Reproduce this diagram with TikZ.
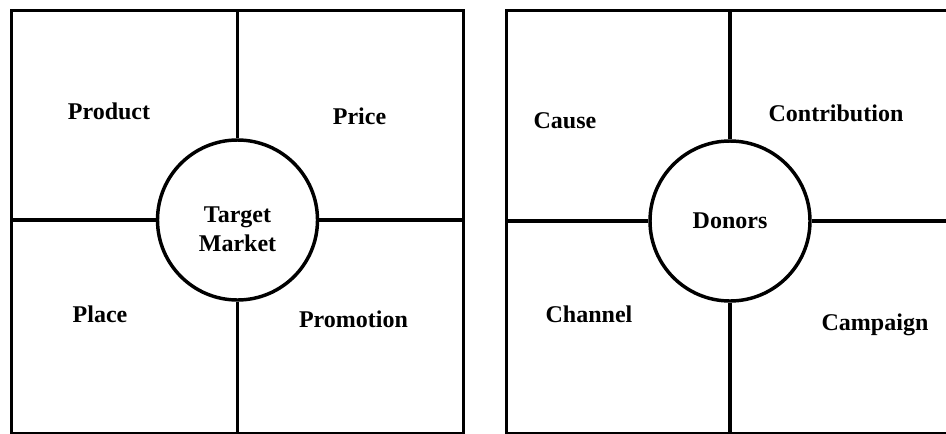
\documentclass[tikz,border=0pt]{standalone}
\usepackage{fontspec}
\setmainfont{Liberation Serif}
\begin{document}
\begin{tikzpicture}[x=0.75pt,y=-0.75pt,line width=2.6pt,
  frame/.style={draw, rectangle, inner sep=0pt, anchor=north west},
  hub/.style={draw, circle, fill=white, inner sep=0pt, minimum size=120pt, font=\fontsize{18}{21.6}\selectfont\bfseries},
  lbl/.style={font=\fontsize{18}{21.6}\selectfont\bfseries, inner sep=0pt, anchor=base},
  divider/.style={draw, line cap=butt}]
\useasboundingbox (0,0) rectangle (946,433);
% left panel
\node[frame, minimum width=339pt, minimum height=316.9pt] (LF) at (9.5,9) {};
\node[hub] (TM) at (237.5,220) {};
\draw[divider] (TM.north) -- (TM.north |- LF.north);
\draw[divider] (TM.south) -- (TM.south |- LF.south);
\draw[divider] (TM.west) -- (TM.west -| LF.west);
\draw[divider] (TM.east) -- (TM.east -| LF.east);
\node[lbl, anchor=center, align=center] (TMt) at (237.5,229.5) {Target\\Market};
\node[lbl] (prod) at (109,119) {Product};
\node[lbl] (price) at (359.5,124) {Price};
\node[lbl] (place) at (100,322) {Place};
\node[lbl] (promo) at (353.5,327) {Promotion};
% right panel
\node[frame, minimum width=370pt, minimum height=316.9pt] (RF) at (505,9) {};
\node[hub] (DN) at (730,221) {Donors};
\draw[divider] (DN.north) -- (DN.north |- RF.north);
\draw[divider] (DN.south) -- (DN.south |- RF.south);
\draw[divider] (DN.west) -- (DN.west -| RF.west);
\draw[divider] (DN.east) -- (DN.east -| RF.east);
\node[lbl] (cause) at (565,128) {Cause};
\node[lbl] (contrib) at (836,121) {Contribution};
\node[lbl] (chan) at (589,322) {Channel};
\node[lbl] (camp) at (875,330) {Campaign};
\end{tikzpicture}
\end{document}
